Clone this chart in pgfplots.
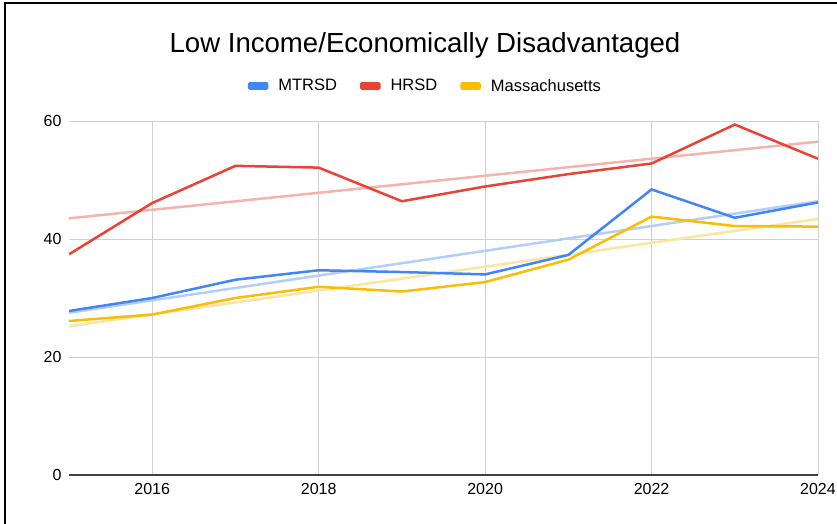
\documentclass[border=0pt]{standalone}
\usepackage{pgfplots}
\pgfplotsset{compat=1.18}
\usepackage{fontspec}
\setmainfont{Liberation Sans}
\definecolor{gblue}{HTML}{4285F4}
\definecolor{gred}{HTML}{EA4335}
\definecolor{gyellow}{HTML}{FBBC04}
\definecolor{tblue}{HTML}{B3CEFB}
\definecolor{tred}{HTML}{F5B3AE}
\definecolor{tyellow}{HTML}{FDE4A0}
\definecolor{gridgray}{HTML}{D0D0D0}

\pgfplotstableread{
year mtrsd hrsd mass
2015 27.8 37.4 26.1
2016 30.0 46.1 27.2
2017 33.1 52.4 30.0
2018 34.7 52.1 31.9
2019 34.4 46.4 31.1
2020 34.0 48.9 32.7
2021 37.3 51.0 36.5
2022 48.4 52.8 43.8
2023 43.6 59.4 42.2
2024 46.2 53.6 42.1
}\datatable

\pgfplotstableread{
year mtrsd hrsd mass
2015 27.5 43.5 25.2
2024 46.4 56.5 43.4
}\trendtable

\begin{document}
\begin{tikzpicture}[x=1pt,y=1pt]
\useasboundingbox (0,0) rectangle (837,523);
\draw[black, line width=2.5pt] (5,-5) -- (5,520) -- (845,520);
\node[font=\fontsize{27.6}{32}\selectfont] at (425,478) {Low Income/Economically Disadvantaged};
\begin{axis}[
  at={(69pt,48pt)}, anchor=south west,
  scale only axis, width=749pt, height=354pt,
  xmin=2015, xmax=2024, ymin=0, ymax=60,
  xtick={2016,2018,2020,2022,2024},
  xticklabels={2016,2018,2020,2022,2024},
  ytick={0,20,40,60},
  ymajorgrids, xmajorgrids,
  grid style={draw=gridgray, line width=1pt},
  axis line style={draw=none},
  major tick length=0pt,
  tick label style={font=\fontsize{16}{19}\selectfont},
  /pgf/number format/assume math mode=true,
  yticklabel style={xshift=-4pt},
  xticklabel style={yshift=-5pt},
  extra y ticks={0}, extra y tick labels={},
  extra y tick style={grid style={draw=black!75, line width=1.5pt}},
  legend columns=3,
  legend cell align=left,
  legend style={at={(0.4745,1.099)}, anchor=center, draw=none, fill=none,
    font=\fontsize{16.5}{19}\selectfont,
    nodes={inner xsep=0pt},
    /tikz/every odd column/.style={column sep=10pt},
    /tikz/every even column/.style={column sep=23pt}},
  legend image code/.code={\fill[#1, rounded corners=0.8pt] (0pt,-2.6pt) rectangle (18pt,2.6pt);},
]
\addplot[tblue, line width=2.5pt, forget plot] table[x=year, y=mtrsd] {\trendtable};
\addplot[tred, line width=2.5pt, forget plot] table[x=year, y=hrsd] {\trendtable};
\addplot[tyellow, line width=2.5pt, forget plot] table[x=year, y=mass] {\trendtable};
\addplot[gblue, line width=2.5pt] table[x=year, y=mtrsd] {\datatable};
\addlegendentry{MTRSD}
\addplot[gred, line width=2.5pt] table[x=year, y=hrsd] {\datatable};
\addlegendentry{HRSD}
\addplot[gyellow, line width=2.5pt] table[x=year, y=mass] {\datatable};
\addlegendentry{Massachusetts}
\end{axis}
\end{tikzpicture}
\end{document}
